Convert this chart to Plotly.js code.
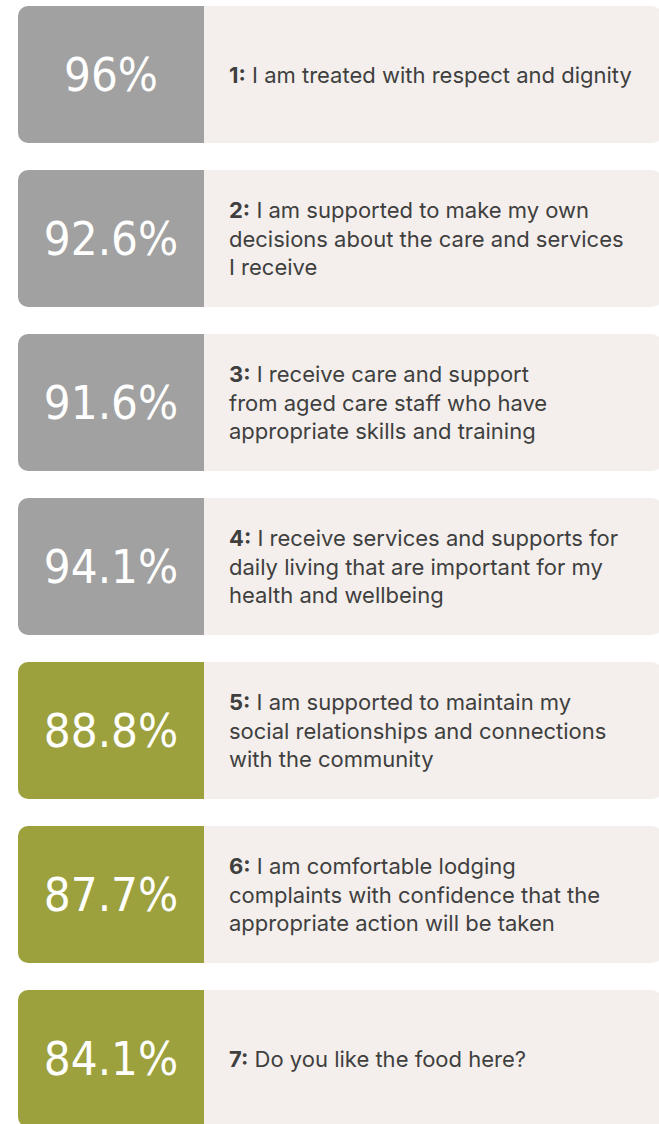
<!DOCTYPE html>
<html>
<head>
<meta charset="utf-8">
<script src="https://cdn.plot.ly/plotly-3.0.1.min.js"></script>
<style>
  html, body { margin: 0; padding: 0; background: #ffffff; }
  #chart { width: 659px; height: 1124px; }
</style>
</head>
<body>
<div id="chart"></div>
<script>
// ---- data ----
const questionNumbers = [1, 2, 3, 4, 5, 6, 7];
const percentValues = [96, 92.6, 91.6, 94.1, 88.8, 87.7, 84.1];
const statements = [
  "I am treated with respect and dignity",
  "I am supported to make my own<br>decisions about the care and services<br>I receive",
  "I receive care and support<br>from aged care staff who have<br>appropriate skills and training",
  "I receive services and supports for<br>daily living that are important for my<br>health and wellbeing",
  "I am supported to maintain my<br>social relationships and connections<br>with the community",
  "I am comfortable lodging<br>complaints with confidence that the<br>appropriate action will be taken",
  "Do you like the food here?"
];
const highlightBelow = 90;

// ---- layout constants ----
const LEFT_W = 186;     // width of value panel (px units)
const RIGHT_W = 458;    // width of statement panel
const X_MIN = -204, X_MAX = 455;
const BAR_W = 137 / 164;
const TEXT_PAD = 23;
const GRAY = '#a1a1a1', OLIVE = '#9ca13d', CARD = '#f4efec', INK = '#3f3f3f';

const cats = questionNumbers.map(n => 'Q' + n);

const valuePanel = {
  type: 'bar', orientation: 'h',
  y: cats,
  x: cats.map(() => -LEFT_W),
  width: BAR_W,
  marker: { color: percentValues.map(v => v < highlightBelow ? OLIVE : GRAY), cornerradius: 10, line: { width: 0 } },
  text: percentValues.map(v => v + '%'),
  textposition: 'inside',
  insidetextanchor: 'middle',
  textangle: 0,
  constraintext: 'none',
  textfont: { family: '"Liberation Sans Narrow", "DejaVu Sans Condensed", sans-serif', size: 47, color: '#ffffff' },
  hoverinfo: 'skip'
};

const statementPanel = {
  type: 'bar', orientation: 'h',
  y: cats,
  x: cats.map(() => RIGHT_W),
  width: BAR_W,
  marker: { color: CARD, cornerradius: 10, line: { width: 0 } },
  hoverinfo: 'skip'
};

const annotations = cats.map((c, i) => ({
  x: TEXT_PAD, y: c, xref: 'x', yref: 'y',
  xanchor: 'left', yanchor: 'middle', align: 'left',
  showarrow: false,
  text: '<b>' + questionNumbers[i] + ':</b> ' + statements[i],
  font: { family: 'Inter, "Noto Sans", sans-serif', size: 22, color: INK }
}));

const layout = {
  width: 659, height: 1124,
  margin: { l: 0, r: 0, t: 0, b: 0 },
  paper_bgcolor: '#ffffff', plot_bgcolor: '#ffffff',
  barmode: 'relative',
  barcornerradius: 10,
  showlegend: false,
  xaxis: { range: [X_MIN, X_MAX], visible: false, fixedrange: true },
  yaxis: { type: 'category', categoryorder: 'array', categoryarray: cats,
           range: [6.3994, -0.4543], visible: false, fixedrange: true },
  annotations: annotations
};

Plotly.newPlot('chart', [valuePanel, statementPanel], layout, { staticPlot: true, displayModeBar: false });
</script>
</body>
</html>
